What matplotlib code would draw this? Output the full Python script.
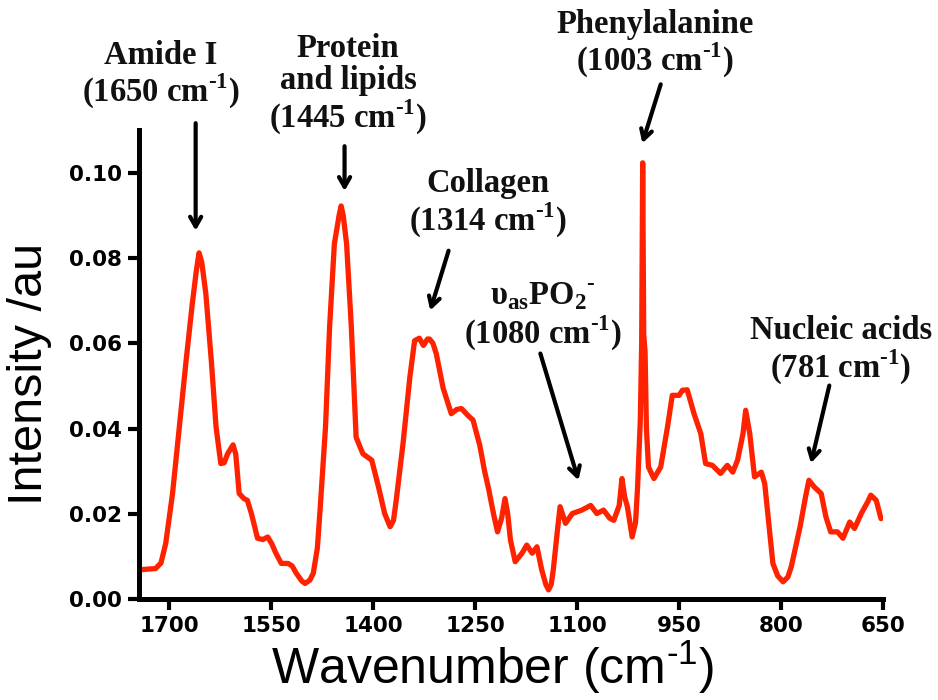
import matplotlib
matplotlib.use("Agg")
import matplotlib.pyplot as plt

plt.rcParams["mathtext.fontset"] = "custom"
plt.rcParams["mathtext.bf"] = "Liberation Serif:bold"
plt.rcParams["mathtext.sf"] = "Liberation Sans"
plt.rcParams["mathtext.rm"] = "Liberation Serif:bold"

# Raman spectrum (wavenumber in cm-1, intensity in a.u.)
wavenumber = [
    1745, 1720, 1712, 1705, 1695, 1685, 1675, 1666, 1660, 1656,
    1652, 1646, 1638, 1631, 1624, 1619, 1614, 1606, 1602, 1597,
    1590, 1585, 1579, 1570, 1562, 1555, 1549, 1543, 1535, 1525,
    1519, 1513, 1505, 1500, 1493, 1488, 1482, 1478, 1470, 1464,
    1457, 1450, 1447, 1444, 1439, 1432, 1425, 1420, 1415, 1402,
    1392, 1383, 1375, 1370, 1366, 1356, 1346, 1339, 1332, 1326,
    1320, 1317, 1312, 1307, 1297, 1285, 1277, 1270, 1260, 1253,
    1243, 1236, 1230, 1223, 1217, 1211, 1206, 1202, 1198, 1191,
    1181, 1174, 1166, 1159, 1152, 1146, 1142, 1138, 1135, 1129,
    1125, 1117, 1107, 1093, 1080, 1071, 1061, 1052, 1046, 1038,
    1034, 1030, 1026, 1019, 1014, 1011, 1007, 1005, 1003.5, 1002,
    1000, 998, 995, 987, 977, 967, 960, 950, 945, 938,
    928, 918, 911, 901, 889, 879, 871, 864, 856, 852,
    846, 839, 829, 824, 819, 812, 805, 797, 790, 785,
    772, 764, 759, 751, 741, 734, 727, 717, 709, 699,
    692, 682, 672, 668, 660, 653,
]
intensity = [
    0.0069, 0.0072, 0.0085, 0.0131, 0.0248, 0.0404, 0.0560, 0.0692, 0.0770, 0.0812,
    0.0790, 0.0716, 0.0560, 0.0404, 0.0318, 0.0320, 0.0341, 0.0362, 0.0340, 0.0248,
    0.0236, 0.0232, 0.0201, 0.0143, 0.0140, 0.0146, 0.0130, 0.0108, 0.0084, 0.0084,
    0.0078, 0.0061, 0.0043, 0.0037, 0.0045, 0.0061, 0.0120, 0.0209, 0.0404, 0.0638,
    0.0833, 0.0900, 0.0922, 0.0900, 0.0833, 0.0638, 0.0380, 0.0360, 0.0341, 0.0326,
    0.0263, 0.0201, 0.0170, 0.0185, 0.0232, 0.0365, 0.0520, 0.0606, 0.0612, 0.0595,
    0.0610, 0.0610, 0.0600, 0.0575, 0.0495, 0.0435, 0.0445, 0.0447, 0.0430, 0.0420,
    0.0360, 0.0300, 0.0258, 0.0201, 0.0158, 0.0190, 0.0236, 0.0200, 0.0139, 0.0088,
    0.0108, 0.0127, 0.0108, 0.0123, 0.0069, 0.0035, 0.0022, 0.0035, 0.0069, 0.0160,
    0.0217, 0.0178, 0.0201, 0.0209, 0.0220, 0.0201, 0.0209, 0.0190, 0.0185, 0.0220,
    0.0283, 0.0240, 0.0217, 0.0146, 0.0180, 0.0263, 0.0420, 0.0600, 0.1023, 0.0620,
    0.0580, 0.0400, 0.0310, 0.0283, 0.0310, 0.0404, 0.0478, 0.0478, 0.0490, 0.0491,
    0.0435, 0.0388, 0.0318, 0.0314, 0.0295, 0.0314, 0.0298, 0.0326, 0.0388, 0.0443,
    0.0388, 0.0287, 0.0298, 0.0271, 0.0193, 0.0084, 0.0055, 0.0041, 0.0052, 0.0076,
    0.0170, 0.0240, 0.0279, 0.0263, 0.0248, 0.0193, 0.0158, 0.0158, 0.0143, 0.0181,
    0.0166, 0.0201, 0.0230, 0.0244, 0.0232, 0.0189,
]

xticks = [1700, 1550, 1400, 1250, 1100, 950, 800, 650]
yticks = [0.00, 0.02, 0.04, 0.06, 0.08, 0.10]

# superscript "-1" drawn with a short hyphen rather than a math minus
SUP = "$^{\\mathbf{\u00ad1}}$"

# band labels: text, text position (x, y), arrow tail, arrow head
band_labels = [
    "Amide I\n(1650 cm" + SUP + ")",
    "Protein\nand lipids\n(1445 cm" + SUP + ")",
    "Collagen\n(1314 cm" + SUP + ")",
    "\u03c5$_{\\mathbf{as}}$PO$_{\\mathbf{2}}$$^{\\mathbf{\u00ad}}$\n(1080 cm" + SUP + ")",
    "Phenylalanine\n(1003 cm" + SUP + ")",
    "Nucleic acids\n(781 cm" + SUP + ")",
]
label_pos = [(1712, 0.1228), (1437, 0.1205), (1231, 0.0926),
             (1150, 0.0663), (985, 0.1300), (712, 0.0582)]
arrow_tail = [(1661, 0.1116), (1442, 0.1062), (1289, 0.0817),
              (1154, 0.0576), (977, 0.1207), (729, 0.0501)]
arrow_head = [(1661, 0.0864), (1442, 0.0957), (1316, 0.0677),
              (1098, 0.0279), (1004, 0.1069), (756, 0.0319)]

fig = plt.figure(figsize=(9.38, 7.0), dpi=100)
ax = fig.add_axes([0.1477, 0.1439, 0.7937, 0.6704])

ax.plot(wavenumber, intensity, color="#ff2200", lw=3.8,
        solid_joinstyle="round", solid_capstyle="round")

ax.set_xlim(1745, 650)
ax.set_ylim(0, 0.11)
ax.set_xticks(xticks)
ax.set_yticks(yticks)
ax.set_xticklabels([str(t) for t in xticks])
ax.set_yticklabels([f"{t:.2f}" for t in yticks])

for side in ["top", "right"]:
    ax.spines[side].set_visible(False)
for side in ["left", "bottom"]:
    ax.spines[side].set_linewidth(3.6)
    ax.spines[side].set_capstyle("projecting")

ax.tick_params(direction="out", length=8, width=3, pad=4, color="black")
for lab in ax.get_xticklabels() + ax.get_yticklabels():
    lab.set_family("DejaVu Sans")
    lab.set_weight("bold")
    lab.set_fontsize(15.5)

ax.set_xlabel("Wavenumber (cm$^{\\mathsf{\u00ad1}}$)", family="Liberation Sans",
              fontsize=36)
ax.set_ylabel("Intensity /au", family="Liberation Sans", fontsize=35)
ax.xaxis.set_label_coords(0.475, -0.146)
ax.xaxis.label.set_va("center")
ax.yaxis.set_label_coords(-0.146, 0.481)
ax.yaxis.label.set_va("center")

for text, (tx, ty), tail, head in zip(band_labels, label_pos, arrow_tail, arrow_head):
    ax.text(tx, ty, text, ha="center", va="center", family="Liberation Serif",
            weight="bold", fontsize=23.5, linespacing=1.05, clip_on=False,
            color="#111111")
    ax.annotate("", xy=head, xytext=tail, annotation_clip=False,
                arrowprops=dict(arrowstyle="->,head_length=0.7,head_width=0.4",
                                lw=3.0, color="black", shrinkA=0, shrinkB=0))

fig.savefig("out.png", dpi=100)
